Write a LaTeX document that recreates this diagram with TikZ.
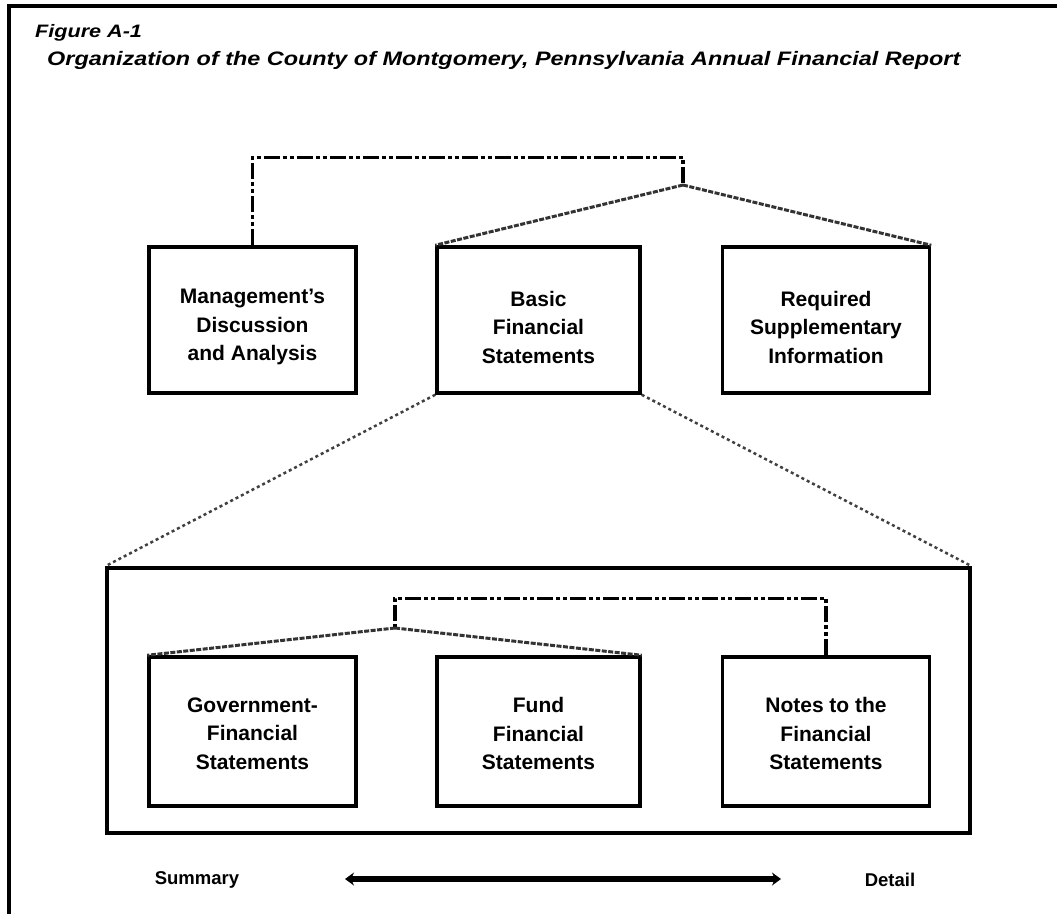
\documentclass[tikz,border=0pt]{standalone}
\usepackage{fontspec}
\setmainfont{Liberation Sans}
\newfontfamily\widesans[FakeStretch=1.2]{Liberation Sans}
\usetikzlibrary{arrows.meta}
\begin{document}
\begin{tikzpicture}[x=1pt,y=-1pt,
  box/.style={draw=black,line width=3.5pt,minimum width=207pt,minimum height=146pt,inner sep=0pt},
  txt/.style={align=center,inner sep=0pt,font=\bfseries\fontsize{21}{28.5}\selectfont},
  ddline/.style={draw=black,line width=3.5pt,dash pattern=on 16pt off 3pt on 4pt off 3pt on 4pt off 3pt},
  fanline/.style={draw=black!80,line width=3pt,dash pattern=on 5pt off 1.5pt},
  dotline/.style={draw=black!75,line width=2.5pt,dash pattern=on 3pt off 3pt},
  lbl/.style={font=\bfseries\fontsize{18.5}{22}\selectfont,inner sep=0pt}]
\useasboundingbox (0,0) rectangle (1057,914);
\fill[white] (0,0) rectangle (1057,914);
% frame
\coordinate (f1) at (9,914);
\coordinate (f2) at (9,6);
\coordinate (f3) at (1057,6);
\draw[line width=3.5pt] (f1) -- (f2) -- (f3);
% title
\node[anchor=base west,inner sep=0pt,font=\widesans\bfseries\itshape\fontsize{18}{20}\selectfont] (fig) at (35,37) {Figure A-1};
\node[anchor=base west,inner sep=0pt,font=\widesans\bfseries\itshape\fontsize{19.5}{22}\selectfont] (ttl) at (47,65) {Organization of the County of Montgomery, Pennsylvania Annual Financial Report};
% top boxes
\node[box] (mda) at (252.5,320) {};
\node[box,minimum width=203pt] (bfs) at (538.5,320) {};
\node[box] (rsi) at (826,320) {};
\node[txt] (mdat) at ([yshift=-7pt]mda.center) {Management's\\Discussion\\and Analysis};
\node[txt] (bfst) at ([yshift=-7pt]bfs.center) {Basic\\Financial\\Statements};
\node[txt] (rsit) at ([yshift=-7pt]rsi.center) {Required\\Supplementary\\Information};
\coordinate (j1) at (683,185);
\draw[ddline] (mda.north) -- ++(0,-88) -| (j1);
\draw[fanline] (j1) -- (bfs.north west);
\draw[fanline] (j1) -- (rsi.north east);
% big box
\node[draw=black,line width=3.5pt,minimum width=863pt,minimum height=265pt,inner sep=0pt] (big) at (538.5,700.5) {};
\draw[dotline] (bfs.south west) -- (big.north west);
\draw[dotline] (bfs.south east) -- (big.north east);
% bottom boxes
\node[box,minimum height=149pt] (gov) at (252.5,731.5) {};
\node[box,minimum height=149pt,minimum width=203pt] (fund) at (538.5,731.5) {};
\node[box,minimum height=149pt] (notes) at (826,731.5) {};
\node[txt] (govt) at ([yshift=-2pt]gov.center) {Government-\\Financial\\Statements};
\node[txt] (fundt) at ([yshift=-2pt]fund.center) {Fund\\Financial\\Statements};
\node[txt] (notest) at ([yshift=-2pt]notes.center) {Notes to the\\Financial\\Statements};
\coordinate (j2) at (395,628);
\draw[ddline] (notes.north) -- ++(0,-57) -| (j2);
\draw[fanline] (j2) -- (gov.north west);
\draw[fanline] (j2) -- (fund.north east);
% summary / detail
\node[lbl] (sum) at (197,880) {Summary};
\node[lbl] (det) at (890,880) {Detail};
\coordinate (al) at (345,879);
\coordinate (ar) at (781,879);
\draw[line width=6pt,{Stealth[length=9pt,width=13pt]}-{Stealth[length=9pt,width=13pt]}] (al) -- (ar);
\end{tikzpicture}
\end{document}
